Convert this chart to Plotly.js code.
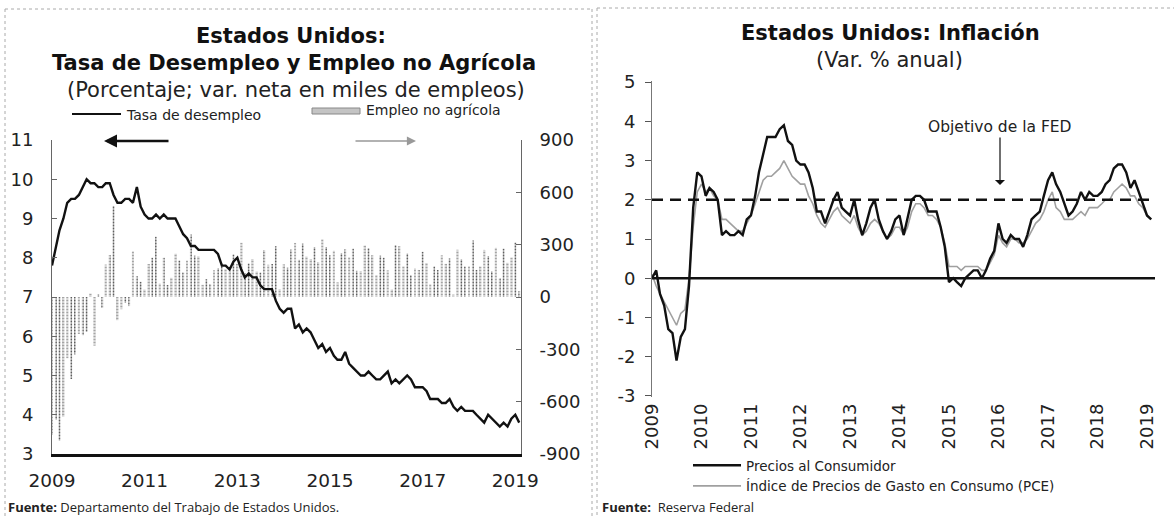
<!DOCTYPE html>
<html>
<head>
<meta charset="utf-8">
<script src="https://cdn.plot.ly/plotly-3.0.1.min.js"></script>
<style>html,body{margin:0;padding:0;background:#fff}#chart{width:1174px;height:517px}</style>
</head>
<body>
<div id="chart"></div>
<script>
// ---------- Data (monthly, Jan 2009 - Feb 2019) ----------
var startYear = 2009, startMonth = 1;

// Tasa de desempleo (%)
var unemployment = [
  7.8, 8.3, 8.7, 9.0, 9.4, 9.5, 9.5, 9.6, 9.8, 10.0, 9.9, 9.9,
  9.8, 9.8, 9.9, 9.9, 9.6, 9.4, 9.4, 9.5, 9.5, 9.4, 9.8, 9.3,
  9.1, 9.0, 9.0, 9.1, 9.0, 9.1, 9.0, 9.0, 9.0, 8.8, 8.6, 8.5,
  8.3, 8.3, 8.2, 8.2, 8.2, 8.2, 8.2, 8.1, 7.8, 7.8, 7.7, 7.9,
  8.0, 7.7, 7.5, 7.6, 7.5, 7.5, 7.3, 7.2, 7.2, 7.2, 6.9, 6.7,
  6.6, 6.7, 6.7, 6.2, 6.3, 6.1, 6.2, 6.1, 5.9, 5.7, 5.8, 5.6,
  5.7, 5.5, 5.4, 5.4, 5.6, 5.3, 5.2, 5.1, 5.0, 5.0, 5.1, 5.0,
  4.9, 4.9, 5.0, 5.1, 4.8, 4.9, 4.8, 4.9, 5.0, 4.9, 4.7, 4.7,
  4.7, 4.6, 4.4, 4.4, 4.4, 4.3, 4.3, 4.4, 4.2, 4.1, 4.2, 4.1,
  4.1, 4.1, 4.0, 3.9, 3.8, 4.0, 3.9, 3.8, 3.7, 3.8, 3.7, 3.9,
  4.0, 3.8
];

// Empleo no agrícola (var. neta, miles)
var payrolls = [
  -791, -703, -823, -686, -351, -470, -329, -212, -219, -200, 20, -279,
  14, -63, 186, 240, 522, -133, -70, -34, -52, 262, 119, 87,
  43, 189, 225, 346, 77, 225, 69, 110, 248, 209, 141, 209,
  358, 237, 233, 70, 102, 74, 153, 165, 194, 160, 150, 244,
  190, 311, 135, 192, 218, 146, 140, 269, 185, 189, 291, 45,
  187, 168, 272, 310, 213, 306, 232, 218, 286, 200, 331, 286,
  239, 265, 84, 251, 273, 228, 277, 150, 149, 295, 280, 239,
  126, 237, 225, 153, 43, 297, 291, 176, 249, 124, 164, 155,
  259, 195, 73, 175, 155, 239, 190, 221, 14, 271, 216, 175,
  176, 324, 155, 175, 270, 235, 147, 282, 108, 277, 196, 227,
  312, 33
];

// Precios al Consumidor (var. % anual)
var cpi = [
  0.0, 0.2, -0.4, -0.7, -1.3, -1.4, -2.1, -1.5, -1.3, -0.2, 1.8, 2.7,
  2.6, 2.1, 2.3, 2.2, 2.0, 1.1, 1.2, 1.1, 1.1, 1.2, 1.1, 1.5,
  1.6, 2.1, 2.7, 3.2, 3.6, 3.6, 3.6, 3.8, 3.9, 3.5, 3.4, 3.0,
  2.9, 2.9, 2.7, 2.3, 1.7, 1.7, 1.4, 1.7, 2.0, 2.2, 1.8, 1.7,
  1.6, 2.0, 1.5, 1.1, 1.4, 1.8, 2.0, 1.5, 1.2, 1.0, 1.2, 1.5,
  1.6, 1.1, 1.5, 2.0, 2.1, 2.1, 2.0, 1.7, 1.7, 1.7, 1.3, 0.8,
  -0.1, 0.0, -0.1, -0.2, 0.0, 0.1, 0.2, 0.2, 0.0, 0.2, 0.5, 0.7,
  1.4, 1.0, 0.9, 1.1, 1.0, 1.0, 0.8, 1.1, 1.5, 1.6, 1.7, 2.1,
  2.5, 2.7, 2.4, 2.2, 1.9, 1.6, 1.7, 1.9, 2.2, 2.0, 2.2, 2.1,
  2.1, 2.2, 2.4, 2.5, 2.8, 2.9, 2.9, 2.7, 2.3, 2.5, 2.2, 1.9,
  1.6, 1.5
];

// Índice de Precios de Gasto en Consumo (PCE, var. % anual)
var pce = [
  0.1, -0.2, -0.4, -0.6, -0.8, -1.0, -1.2, -0.9, -0.8, 0.0, 1.3, 2.2,
  2.4, 2.2, 2.3, 2.1, 2.0, 1.5, 1.5, 1.4, 1.3, 1.2, 1.2, 1.4,
  1.6, 1.9, 2.2, 2.5, 2.6, 2.6, 2.7, 2.8, 3.0, 2.8, 2.6, 2.5,
  2.4, 2.4, 2.1, 1.9, 1.6, 1.4, 1.3, 1.5, 1.7, 1.8, 1.6, 1.5,
  1.4, 1.6, 1.3, 1.1, 1.2, 1.4, 1.5, 1.4, 1.2, 1.0, 1.1, 1.3,
  1.3, 1.1, 1.3, 1.7, 1.9, 1.9, 1.8, 1.6, 1.6, 1.5, 1.3, 0.9,
  0.3, 0.3, 0.3, 0.2, 0.3, 0.3, 0.3, 0.3, 0.2, 0.2, 0.4, 0.6,
  1.1, 0.9, 0.8, 1.0, 1.0, 0.9, 0.9, 1.0, 1.2, 1.4, 1.5, 1.7,
  2.0, 2.2, 1.8, 1.7, 1.5, 1.5, 1.5, 1.6, 1.7, 1.6, 1.8, 1.8,
  1.8, 1.9, 2.0, 2.0, 2.2, 2.3, 2.4, 2.3, 2.1, 2.1, 1.9, 1.8,
  1.6, 1.5
];

var fedTarget = 2;

var leftYearTicks = ['2009', '2011', '2013', '2015', '2017', '2019'];
var rightYearTicks = ['2009', '2010', '2011', '2012', '2013', '2014', '2015', '2016', '2017', '2018', '2019'];
var leftYTicks = [3, 4, 5, 6, 7, 8, 9, 10, 11];
var rightBarTicks = [-900, -600, -300, 0, 300, 600, 900];
var inflTicks = [-3, -2, -1, 0, 1, 2, 3, 4, 5];

// ---------- helpers ----------
function monthDates(n) {
  var out = [];
  for (var i = 0; i < n; i++) {
    var y = startYear + Math.floor((startMonth - 1 + i) / 12);
    var m = ((startMonth - 1 + i) % 12) + 1;
    out.push(y + '-' + (m < 10 ? '0' + m : m) + '-01');
  }
  return out;
}
function hy(v) { return String(v).replace('\u2212', '-'); }
var dates = monthDates(unemployment.length);

var W = 1174, H = 517;
function px(x) { return x / W; }
function py(y) { return 1 - y / H; }

var FONT = 'DejaVu Sans, Open Sans, sans-serif';
var FONT2 = 'Open Sans, DejaVu Sans, sans-serif';

var traces = [
  {
    type: 'bar', x: dates, y: payrolls, xaxis: 'x', yaxis: 'y',
    name: 'Empleo no agrícola', showlegend: false,
    marker: { color: '#d4d4d4', line: { width: 0 },
      pattern: { shape: '.', fgcolor: '#5e5e5e', bgcolor: '#e2e2e2', size: 3, solidity: 0.4 } }
  },
  {
    type: 'scatter', mode: 'lines', x: dates, y: unemployment, xaxis: 'x', yaxis: 'y2',
    name: 'Tasa de desempleo', showlegend: false,
    line: { color: '#111', width: 2.4 }
  },
  {
    type: 'scatter', mode: 'lines', x: dates, y: pce, xaxis: 'x2', yaxis: 'y3',
    name: 'Índice de Precios de Gasto en Consumo (PCE)', showlegend: true, legendrank: 2,
    line: { color: '#a0a0a0', width: 1.6 }
  },
  {
    type: 'scatter', mode: 'lines', x: dates, y: cpi, xaxis: 'x2', yaxis: 'y3',
    name: 'Precios al Consumidor', showlegend: true, legendrank: 1,
    line: { color: '#111', width: 2.4 }
  }
];

var leftDomainX = [px(52), px(521)];
var leftDomainY = [py(454), py(140)];
var rightDomainX = [px(652), px(1155)];
var rightDomainY = [py(397), py(81)];

function ann(o) {
  o.xref = o.xref || 'paper'; o.yref = o.yref || 'paper';
  if (!o.xanchor) o.xanchor = 'center';
  if (!o.yanchor) o.yanchor = 'middle';
  if (o.showarrow === undefined) o.showarrow = false;
  return o;
}

var layout = {
  width: W, height: H,
  margin: { l: 0, r: 0, t: 0, b: 0 },
  paper_bgcolor: '#fff', plot_bgcolor: 'rgba(0,0,0,0)',
  font: { family: FONT, color: '#222', size: 14 },
  bargap: 0.45,
  showlegend: true,
  legend: {
    x: px(688), y: py(450), xanchor: 'left', yanchor: 'top',
    bgcolor: 'rgba(0,0,0,0)', font: { size: 13.5, family: FONT, color: '#222' },
    tracegroupgap: 0, itemwidth: 48, traceorder: 'normal'
  },
  xaxis: {
    domain: leftDomainX, anchor: 'y', type: 'date',
    range: ['2009-01-01', '2019-02-15'],
    tickvals: leftYearTicks.map(function (y) { return y + '-01-01'; }),
    ticktext: leftYearTicks,
    showline: true, linecolor: '#111', linewidth: 3,
    ticks: '', showgrid: false, zeroline: false,
    tickfont: { size: 18.5, family: FONT, color: '#222' },
    ticklabelstandoff: 8
  },
  yaxis: {
    domain: leftDomainY, anchor: 'x', side: 'right',
    range: [-900, 900],
    tickvals: rightBarTicks, ticktext: rightBarTicks.map(hy),
    showline: true, linecolor: '#666', linewidth: 1,
    ticks: 'inside', ticklen: 5, tickcolor: '#666',
    showgrid: false, zeroline: false,
    tickfont: { size: 18, family: FONT, color: '#222' },
    ticklabelstandoff: 14
  },
  yaxis2: {
    domain: leftDomainY, anchor: 'x', overlaying: 'y', side: 'left',
    range: [3, 11],
    tickvals: leftYTicks, ticktext: leftYTicks.map(String),
    showline: true, linecolor: '#666', linewidth: 1,
    ticks: 'inside', ticklen: 5, tickcolor: '#666',
    showgrid: false, zeroline: false,
    tickfont: { size: 18, family: FONT, color: '#222' },
    ticklabelstandoff: 14
  },
  xaxis2: {
    domain: rightDomainX, anchor: 'y3', type: 'date',
    range: ['2009-01-01', '2019-03-01'],
    tickvals: rightYearTicks.map(function (y) { return y + '-01-01'; }),
    ticktext: rightYearTicks,
    tickangle: -90,
    showline: false, ticks: '', showgrid: false, zeroline: false,
    tickfont: { size: 18, family: FONT, color: '#222' },
    ticklabelstandoff: 2
  },
  yaxis3: {
    domain: rightDomainY, anchor: 'x2',
    range: [-3.03, 5.03],
    tickvals: inflTicks, ticktext: inflTicks.map(hy),
    showline: true, linecolor: '#777', linewidth: 1,
    ticks: 'outside', ticklen: 6, tickcolor: '#555',
    showgrid: false, zeroline: false,
    tickfont: { size: 18, family: FONT, color: '#222' },
    ticklabelstandoff: 6
  },
  yaxis4: {
    domain: rightDomainY, anchor: 'x2', overlaying: 'y3',
    range: [-3.03, 5.03], tickvals: inflTicks, showticklabels: false,
    showline: false, ticks: 'inside', ticklen: 6, tickcolor: '#555',
    showgrid: false, zeroline: false
  },
  shapes: [
    // panel frames (dotted)
    { type: 'line', xref: 'paper', yref: 'paper', x0: px(5), x1: px(592), y0: py(9), y1: py(9), line: { color: '#aaa', width: 1, dash: 'dot' } },
    { type: 'line', xref: 'paper', yref: 'paper', x0: px(5), x1: px(5), y0: py(9), y1: py(517), line: { color: '#aaa', width: 1, dash: 'dot' } },
    { type: 'line', xref: 'paper', yref: 'paper', x0: px(592), x1: px(592), y0: py(9), y1: py(517), line: { color: '#aaa', width: 1, dash: 'dot' } },
    { type: 'line', xref: 'paper', yref: 'paper', x0: px(597), x1: px(1174), y0: py(8), y1: py(8), line: { color: '#aaa', width: 1, dash: 'dot' } },
    { type: 'line', xref: 'paper', yref: 'paper', x0: px(597), x1: px(597), y0: py(8), y1: py(517), line: { color: '#aaa', width: 1, dash: 'dot' } },
    // zero line (inflation)
    { type: 'line', xref: 'x2 domain', yref: 'y3', x0: 0, x1: 1, y0: 0, y1: 0, line: { color: '#111', width: 2.5 } },
    // FED target
    { type: 'line', xref: 'x2 domain', yref: 'y3', x0: 0, x1: 1, y0: fedTarget, y1: fedTarget, line: { color: '#111', width: 2.6, dash: '11px,7px' } },
    // left legend swatches
    { type: 'line', xref: 'paper', yref: 'paper', x0: px(72), x1: px(121), y0: py(114), y1: py(114), line: { color: '#111', width: 2 } },
    { type: 'rect', xref: 'paper', yref: 'paper', x0: px(312), x1: px(360), y0: py(108), y1: py(114), fillcolor: '#c4c4c4', line: { color: '#888', width: 1 } }
  ],
  annotations: [
    // left titles
    ann({ x: px(291), y: py(36), text: '<b>Estados Unidos:</b>', font: { size: 21, color: '#111' } }),
    ann({ x: px(294), y: py(63), text: '<b>Tasa de Desempleo y Empleo no Agrícola</b>', font: { size: 21, color: '#111' } }),
    ann({ x: px(296), y: py(90), text: '(Porcentaje; var. neta en miles de empleos)', font: { size: 21, color: '#222' } }),
    // left legend texts
    ann({ x: px(124), y: py(115), xanchor: 'left', text: 'Tasa de desempleo', font: { size: 14, color: '#222' } }),
    ann({ x: px(364), y: py(110), xanchor: 'left', text: 'Empleo no agrícola', font: { size: 14, color: '#222' } }),
    // direction arrows
    ann({ x: px(104), y: py(141), ax: 66, ay: 0, text: '', showarrow: true, arrowhead: 2, arrowsize: 1, arrowwidth: 2.6, arrowcolor: '#111' }),
    ann({ x: px(416), y: py(141), ax: -62, ay: 0, text: '', showarrow: true, arrowhead: 2, arrowsize: 1.3, arrowwidth: 1.4, arrowcolor: '#999' }),
    // right titles
    ann({ x: px(890), y: py(33), text: '<b>Estados Unidos: Inflación</b>', font: { size: 21, color: '#111' } }),
    ann({ x: px(889), y: py(60), text: '(Var. % anual)', font: { size: 21, color: '#222' } }),
    // FED annotation
    ann({ x: px(1000), y: py(185), ax: 0, ay: -58, text: 'Objetivo de la FED', showarrow: true, arrowhead: 1, arrowsize: 1.4, arrowwidth: 1.2, arrowcolor: '#111', font: { size: 15.5, color: '#222' } }),
    // sources
    ann({ x: px(6), y: py(507), xanchor: 'left', text: '<b>Fuente:</b> Departamento del Trabajo de Estados Unidos.', font: { size: 13, family: FONT2, color: '#222' } }),
    ann({ x: px(600), y: py(507), xanchor: 'left', text: '<b>Fuente:</b>  Reserva Federal', font: { size: 13, family: FONT2, color: '#222' } })
  ]
};

Plotly.newPlot('chart', traces, layout, { displayModeBar: false, staticPlot: true });
</script>
</body>
</html>
